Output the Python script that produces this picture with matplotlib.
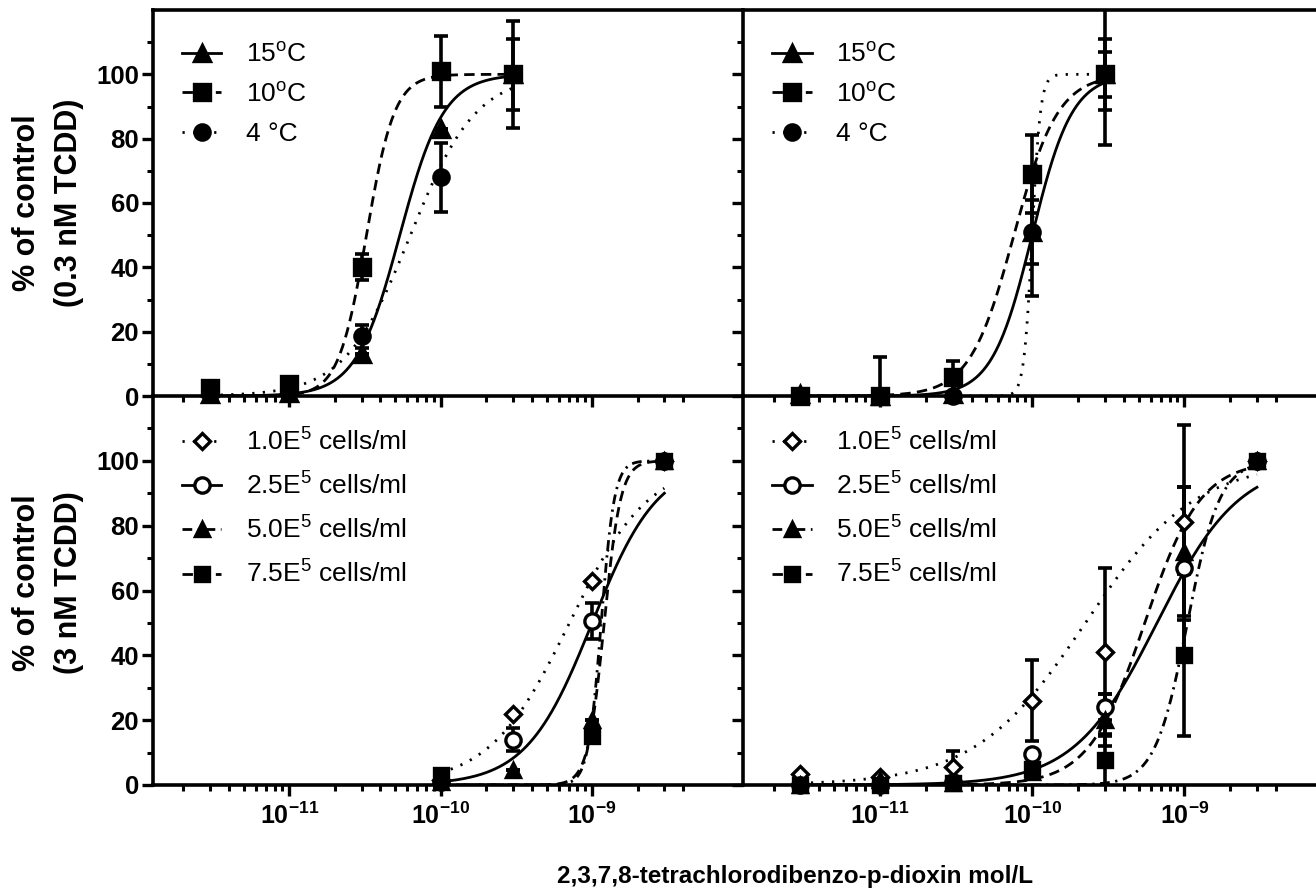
import numpy as np
import matplotlib
matplotlib.use("Agg")
import matplotlib.pyplot as plt
from matplotlib.lines import Line2D

plt.rcParams['font.family'] = ['Liberation Sans', 'DejaVu Sans']
plt.rcParams['mathtext.fontset'] = 'custom'
plt.rcParams['mathtext.rm'] = 'Liberation Sans'
plt.rcParams['mathtext.bf'] = 'Liberation Sans:bold'
plt.rcParams['mathtext.it'] = 'Liberation Sans:italic'
plt.rcParams['lines.scale_dashes'] = False

# ---------------- data ----------------
nan = float('nan')
# concentrations (mol/L)
conc_top = [3e-12, 1e-11, 3e-11, 1e-10, 3e-10]
conc_bl = [1e-10, 3e-10, 1e-9, 3e-9]
conc_br = [3e-12, 1e-11, 3e-11, 1e-10, 3e-10, 1e-9, 3e-9]

temp_labels = ['15$^{\\mathrm{o}}$C', '10$^{\\mathrm{o}}$C', '4 \u00b0C']
cell_labels = ['1.0E$^{\\mathrm{5}}$ cells/ml', '2.5E$^{\\mathrm{5}}$ cells/ml',
               '5.0E$^{\\mathrm{5}}$ cells/ml', '7.5E$^{\\mathrm{5}}$ cells/ml']

# top-left (0.3 nM TCDD)
tl_15 = [0.5, 1.0, 13, 83, 100]
tl_15_err = [0, 0, 0, 0, 11]
tl_10 = [2.5, 3.8, 40, 101, 100]
tl_10_err = [0, 0, 4, 11, 0]
tl_4 = [0.5, 1.5, 18.5, 68, 100]
tl_4_err = [0, 0, 3.5, 10.7, 16.7]
# fitted curve params (logEC50, hill)
tl_fit = [(-10.27, 3.0), (-10.49, 4.7), (-10.20, 2.0)]

# top-right
tr_15 = [0.5, 0, 0.5, 51, 100]
tr_15_err = [0, 0, 0, 10, 11]
tr_10 = [0, 0, 6, 69, 100]
tr_10_err = [0, 0, 5, 12, 7]
tr_4 = [0, 0, 0, 51, 100]
tr_4_err = [0, 12, 0, 20, 22]
tr_fit = [(-10.00, 3.3), (-10.12, 3.0), (-10.00, 16.0)]

# bottom-left (3 nM TCDD)
bl_1 = [1.5, 22, 63, 100]
bl_1_err = [0, 0, 0, 0]
bl_25 = [1, 14, 50.5, 100]
bl_25_err = [0, 3.5, 5.5, 0]
bl_5 = [1, 4.5, 20, 100]
bl_5_err = [0, 0, 0, 0]
bl_75 = [3, nan, 15, 100]
bl_75_err = [0, 0, 0, 0]
bl_fit = [(-9.15, 1.65), (-9.00, 2.0), (-8.94, 10.0), (-8.92, 8.0)]

# bottom-right
br_1 = [3.5, 2.5, 5.5, 26, 41, 81, 100]
br_1_err = [0, 0, 5, 12.5, 26, 30, 0]
br_25 = [0, 0, 1, 9.5, 24, 67, 100]
br_25_err = [0, 0, 0, 0, 4, 25, 0]
br_5 = [0, 1.5, 0.5, 4, 20, 72, 100]
br_5_err = [0, 0, 0, 0, 8, 20, 0]
br_75 = [0, 0, 0.5, 5, 7.7, 40, 100]
br_75_err = [0, 0, 0, 0, 8, 25, 0]
br_fit = [(-9.65, 1.2), (-9.18, 1.6), (-9.26, 2.37), (-8.98, 4.1)]

ytick_vals = [0, 20, 40, 60, 80, 100]
xtick_vals = [1e-11, 1e-10, 1e-9]
xtick_labels = ['$\\mathbf{10^{-11}}$', '$\\mathbf{10^{-10}}$', '$\\mathbf{10^{-9}}$']
xlabel = '2,3,7,8-tetrachlorodibenzo-p-dioxin mol/L'
ylabel_top = '% of control\n(0.3 nM TCDD)'
ylabel_bot = '% of control\n(3 nM TCDD)'

# ---------------- styles ----------------
LS_SOLID = '-'
LS_DASH = (0, (7.5, 4.5))
LS_DOT = (0, (1.6, 6.0))
LS_DASHDOT = (0, (7.0, 4.0, 1.6, 4.0))

temp_styles = [dict(marker='^', ls=LS_SOLID, mfc='k', ms=11),
               dict(marker='s', ls=LS_DASH, mfc='k', ms=11),
               dict(marker='o', ls=LS_DOT, mfc='k', ms=11)]
cell_styles = [dict(marker='D', ls=LS_DOT, mfc='white', ms=8),
               dict(marker='o', ls=LS_SOLID, mfc='white', ms=11),
               dict(marker='^', ls=LS_DASHDOT, mfc='k', ms=10),
               dict(marker='s', ls=LS_DASH, mfc='k', ms=9.5)]
# curve line styles as they appear in the bottom-right panel
br_curve_ls = [LS_DOT, LS_SOLID, LS_DASH, LS_DASHDOT]

W, H = 1316, 890
fig = plt.figure(figsize=(W / 100, H / 100), dpi=100)

XMIN, XMAX = 10 ** -11.9, 10 ** -8.01


def rect(x0, y0, x1, y1):
    return [x0 / W, 1 - y1 / H, (x1 - x0) / W, (y1 - y0) / H]


ax_tl = fig.add_axes(rect(153, 10, 742, 396))
ax_bl = fig.add_axes(rect(153, 396, 742, 785))
ax_tr = fig.add_axes(rect(743, 10, 1335, 396))
ax_br = fig.add_axes(rect(743, 396, 1335, 785))

LW_SP = 2.6
minor_x = [k * 10.0 ** n for n in (-12, -11, -10) for k in range(2, 10)] + [2e-9, 3e-9, 4e-9]
minor_x = [v for v in minor_x if v > XMIN]

for ax in (ax_tl, ax_bl, ax_tr, ax_br):
    ax.set_xscale('log')
    ax.set_xlim(XMIN, XMAX)
    ax.set_ylim(0, 120)
    ax.patch.set_alpha(0)
    ax.spines['right'].set_visible(False)
    for s in ('left', 'bottom', 'top'):
        ax.spines[s].set_linewidth(LW_SP)
    ax.set_xticks(xtick_vals)
    ax.set_xticks(minor_x, minor=True)
    ax.set_yticks(ytick_vals)
    ax.set_yticks([10, 30, 50, 70, 90, 110], minor=True)
    ax.tick_params(axis='both', which='major', direction='out', length=8, width=2.4,
                   labelsize=18)
    ax.tick_params(axis='y', which='major', labelsize=18.5, pad=2)
    ax.tick_params(axis='both', which='minor', direction='out', length=4.5, width=2.2)
    ax.tick_params(axis='x', which='major', pad=4.5)

for ax in (ax_bl, ax_br):
    ax.spines['top'].set_visible(False)
for ax in (ax_tl, ax_tr):
    ax.set_xticklabels([])
for ax in (ax_bl, ax_br):
    ax.set_xticklabels(xtick_labels)
for ax in (ax_tr, ax_br):
    ax.set_yticklabels([])
for ax in (ax_tl, ax_bl):
    for lab in ax.get_yticklabels():
        lab.set_fontweight('bold')


def hill(logx, logec50, h):
    return 100.0 / (1.0 + 10.0 ** ((logec50 - logx) * h))


def draw_curve(ax, xs, fit, ls):
    lx = np.linspace(np.log10(xs[0]), np.log10(xs[-1]), 500)
    ax.plot(10 ** lx, hill(lx, *fit), color='k', lw=2.0, linestyle=ls, zorder=2)


def draw_points(ax, xs, ys, errs, style, z):
    ax.errorbar(xs, ys, yerr=errs, fmt='none', ecolor='k', elinewidth=2.6,
                capsize=5, capthick=2.6, zorder=3)
    ax.plot(xs, ys, linestyle='none', marker=style['marker'], ms=style['ms'],
            mfc=style['mfc'], mec='k', mew=2.4, zorder=z, clip_on=False)


for ax, series in ((ax_tl, [(tl_15, tl_15_err), (tl_10, tl_10_err), (tl_4, tl_4_err)]),
                   (ax_tr, [(tr_15, tr_15_err), (tr_10, tr_10_err), (tr_4, tr_4_err)])):
    fits = tl_fit if ax is ax_tl else tr_fit
    for ft, st in zip(fits, temp_styles):
        draw_curve(ax, conc_top, ft, st['ls'])
    for k, i in enumerate([2, 0, 1]):
        ys, es = series[i]
        draw_points(ax, conc_top, ys, es, temp_styles[i], 4 + k)

for ax, xs, series, fits, lss in (
        (ax_bl, conc_bl, [(bl_1, bl_1_err), (bl_25, bl_25_err), (bl_5, bl_5_err), (bl_75, bl_75_err)],
         bl_fit, [s['ls'] for s in cell_styles]),
        (ax_br, conc_br, [(br_1, br_1_err), (br_25, br_25_err), (br_5, br_5_err), (br_75, br_75_err)],
         br_fit, br_curve_ls)):
    for ft, ls in zip(fits, lss):
        draw_curve(ax, xs, ft, ls)
    for k, ((ys, es), st) in enumerate(zip(series, cell_styles)):
        draw_points(ax, xs, ys, es, st, 4 + k)


def legend(ax, labels, styles, anchor, spacing):
    handles = [Line2D([], [], color='k', lw=2.0, linestyle=s['ls'], marker=s['marker'],
                      ms=s['ms'], mfc=s['mfc'], mec='k', mew=2.4) for s in styles]
    ax.legend(handles, labels, loc='upper left', bbox_to_anchor=anchor, frameon=False,
              fontsize=19, handlelength=1.5, handletextpad=0.93, labelspacing=spacing,
              borderpad=0, borderaxespad=0, numpoints=1)


legend(ax_tl, temp_labels, temp_styles, (0.049, 0.915), 0.6)
legend(ax_tr, temp_labels, temp_styles, (0.049, 0.915), 0.6)
legend(ax_bl, cell_labels, cell_styles, (0.049, 0.917), 0.64)
legend(ax_br, cell_labels, cell_styles, (0.049, 0.917), 0.64)

ylab_font = dict(family=['Liberation Sans', 'DejaVu Sans'], fontweight='bold', fontsize=22)
fig.text(48 / W, 1 - 203 / H, ylabel_top, rotation=90, ha='center', va='center',
         multialignment='center', linespacing=1.5, **ylab_font)
fig.text(48 / W, 1 - 583 / H, ylabel_bot, rotation=90, ha='center', va='center',
         multialignment='center', linespacing=1.5, **ylab_font)
fig.text(795 / W, 1 - 876 / H, xlabel, ha='center', va='center', fontsize=17.5,
         fontweight='bold')

fig.savefig('out.png', dpi=100)
